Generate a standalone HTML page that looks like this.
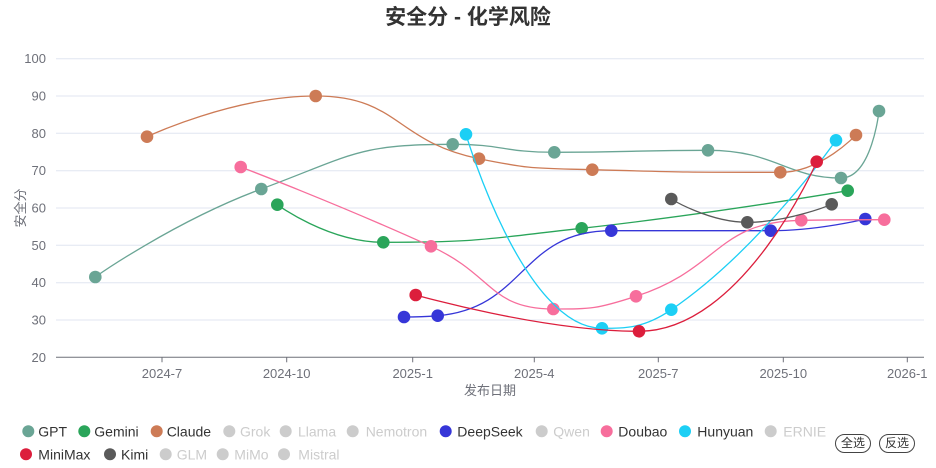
<!DOCTYPE html>
<html><head><meta charset="utf-8"><style>
html,body{margin:0;padding:0;background:#fff;}
body{width:936px;height:468px;overflow:hidden;position:relative;font-family:"Liberation Sans","Noto Sans CJK SC",sans-serif;}
svg{position:absolute;left:0;top:0;}
.btn{position:absolute;top:434px;height:17px;width:34px;border:1px solid #444;border-radius:10px;font-size:12px;line-height:17px;text-align:center;color:#333;box-sizing:content-box;}
</style></head><body>
<svg id="s" width="936" height="468" xmlns="http://www.w3.org/2000/svg" font-family="Liberation Sans, Noto Sans CJK SC, sans-serif">
<text x="468" y="24" text-anchor="middle" font-size="21" font-weight="bold" fill="#333">安全分 - 化学风险</text>
<g stroke="#e0e6f1" stroke-width="1">
<line x1="56" x2="924" y1="58.7" y2="58.7"/>
<line x1="56" x2="924" y1="96" y2="96"/>
<line x1="56" x2="924" y1="133.3" y2="133.3"/>
<line x1="56" x2="924" y1="170.7" y2="170.7"/>
<line x1="56" x2="924" y1="208" y2="208"/>
<line x1="56" x2="924" y1="245.3" y2="245.3"/>
<line x1="56" x2="924" y1="282.7" y2="282.7"/>
<line x1="56" x2="924" y1="320" y2="320"/>
</g>
<line x1="56" x2="924" y1="357.3" y2="357.3" stroke="#6e7079" stroke-width="1"/>
<g stroke="#6e7079" stroke-width="1">
<line x1="162" x2="162" y1="357.3" y2="362.3"/>
<line x1="286.7" x2="286.7" y1="357.3" y2="362.3"/>
<line x1="412.7" x2="412.7" y1="357.3" y2="362.3"/>
<line x1="534.3" x2="534.3" y1="357.3" y2="362.3"/>
<line x1="658.3" x2="658.3" y1="357.3" y2="362.3"/>
<line x1="783.3" x2="783.3" y1="357.3" y2="362.3"/>
<line x1="907.3" x2="907.3" y1="357.3" y2="362.3"/>
</g>
<g font-size="13" fill="#6e7079" text-anchor="end">
<text x="46" y="63.2">100</text>
<text x="46" y="100.5">90</text>
<text x="46" y="137.8">80</text>
<text x="46" y="175.2">70</text>
<text x="46" y="212.5">60</text>
<text x="46" y="249.8">50</text>
<text x="46" y="287.2">40</text>
<text x="46" y="324.5">30</text>
<text x="46" y="361.8">20</text>
</g>
<g font-size="13" fill="#6e7079" text-anchor="middle">
<text x="162" y="378">2024-7</text>
<text x="286.7" y="378">2024-10</text>
<text x="412.7" y="378">2025-1</text>
<text x="534.3" y="378">2025-4</text>
<text x="658.3" y="378">2025-7</text>
<text x="783.3" y="378">2025-10</text>
<text x="907.3" y="378">2026-1</text>
</g>
<text x="490" y="395" text-anchor="middle" font-size="13" fill="#6e7079">发布日期</text>
<text transform="translate(25,208) rotate(-90)" text-anchor="middle" font-size="13" fill="#6e7079">安全分</text>
<g id="series"></g>
<g font-size="14">
<circle cx="28.3" cy="431.3" r="6" fill="#6aa595"/><text x="38.3" y="436.3" fill="#333">GPT</text>
<circle cx="84.3" cy="431.3" r="6" fill="#2aa55a"/><text x="94.3" y="436.3" fill="#333">Gemini</text>
<circle cx="156.7" cy="431.3" r="6" fill="#cd7b56"/><text x="166.7" y="436.3" fill="#333">Claude</text>
<circle cx="229.3" cy="431.3" r="6" fill="#ccc"/><text x="240" y="436.3" fill="#ccc">Grok</text>
<circle cx="285.7" cy="431.3" r="6" fill="#ccc"/><text x="298" y="436.3" fill="#ccc">Llama</text>
<circle cx="352.7" cy="431.3" r="6" fill="#ccc"/><text x="365.7" y="436.3" fill="#ccc">Nemotron</text>
<circle cx="445.7" cy="431.3" r="6" fill="#3636d8"/><text x="457.3" y="436.3" fill="#333">DeepSeek</text>
<circle cx="541.7" cy="431.3" r="6" fill="#ccc"/><text x="553.3" y="436.3" fill="#ccc">Qwen</text>
<circle cx="606.7" cy="431.3" r="6" fill="#f76e9c"/><text x="618.3" y="436.3" fill="#333">Doubao</text>
<circle cx="685" cy="431.3" r="6" fill="#1ccff5"/><text x="697.3" y="436.3" fill="#333">Hunyuan</text>
<circle cx="770.7" cy="431.3" r="6" fill="#ccc"/><text x="783.3" y="436.3" fill="#ccc">ERNIE</text>
<circle cx="26" cy="454.3" r="6" fill="#dc1e3c"/><text x="38.3" y="459.3" fill="#333">MiniMax</text>
<circle cx="110" cy="454.3" r="6" fill="#5a5a5a"/><text x="121" y="459.3" fill="#333">Kimi</text>
<circle cx="165.7" cy="454.3" r="6" fill="#ccc"/><text x="176.7" y="459.3" fill="#ccc">GLM</text>
<circle cx="222.7" cy="454.3" r="6" fill="#ccc"/><text x="234.3" y="459.3" fill="#ccc">MiMo</text>
<circle cx="284" cy="454.3" r="6" fill="#ccc"/><text x="298.3" y="459.3" fill="#ccc">Mistral</text>
</g>
</svg>
<div class="btn" style="left:835px;">全选</div>
<div class="btn" style="left:879px;">反选</div>
<script>
var S=[
["#6aa595",[[95.3,277],[261.3,189],[452.7,144.3],[554.3,152.3],[708,150.3],[841,178],[879,111]]],
["#2aa55a",[[277.3,204.7],[383.3,242.3],[581.7,228.3],[847.7,190.7]]],
["#cd7b56",[[147,136.7],[315.7,96],[479,158.7],[592.3,169.7],[780.3,172.3],[856,135]]],
["#3636d8",[[404,317],[437.7,315.7],[611.3,230.7],[770.7,230.7],[865.3,219]]],
["#f76e9c",[[240.7,167],[431,246.3],[553.3,309],[636,296.3],[801.3,220.3],[884.3,219.7]]],
["#1ccff5",[[466,134.3],[602,328.3],[671.3,309.7],[836,140.3]]],
["#dc1e3c",[[415.7,295],[639,331.3],[816.7,161.7]]],
["#5a5a5a",[[671.3,199],[747.3,222.3],[831.7,204.3]]]
];
function smoothPath(p){
  var sm=0.5,mn=Math.min,mx=Math.max;
  var d="M"+p[0][0]+","+p[0][1];
  var cpx0=p[0][0],cpy0=p[0][1],prevX=p[0][0],prevY=p[0][1];
  for(var i=1;i<p.length;i++){
    var x=p[i][0],y=p[i][1],cpx1,cpy1,ncx=x,ncy=y;
    if(i===p.length-1){cpx1=x;cpy1=y;}
    else{
      var nx=p[i+1][0],ny=p[i+1][1];
      var vx=nx-prevX,vy=ny-prevY;
      var dx0=x-prevX,dy0=y-prevY,dx1=nx-x,dy1=ny-y;
      var lp=Math.sqrt(dx0*dx0+dy0*dy0),ln=Math.sqrt(dx1*dx1+dy1*dy1);
      var r=ln/(ln+lp);
      ncx=x+vx*sm*r;ncy=y+vy*sm*r;
      ncx=mn(ncx,mx(nx,x));ncy=mn(ncy,mx(ny,y));
      ncx=mx(ncx,mn(nx,x));ncy=mx(ncy,mn(ny,y));
      vx=ncx-x;vy=ncy-y;
      cpx1=x-vx*lp/ln;cpy1=y-vy*lp/ln;
      cpx1=mn(cpx1,mx(prevX,x));cpy1=mn(cpy1,mx(prevY,y));
      cpx1=mx(cpx1,mn(prevX,x));cpy1=mx(cpy1,mn(prevY,y));
      vx=x-cpx1;vy=y-cpy1;
      ncx=x+vx*ln/lp;ncy=y+vy*ln/lp;
    }
    d+=" C"+cpx0.toFixed(2)+","+cpy0.toFixed(2)+" "+cpx1.toFixed(2)+","+cpy1.toFixed(2)+" "+x+","+y;
    cpx0=ncx;cpy0=ncy;prevX=x;prevY=y;
  }
  return d;
}
var g=document.getElementById("series"),NS="http://www.w3.org/2000/svg";
S.forEach(function(s){
  var grp=document.createElementNS(NS,"g");
  var path=document.createElementNS(NS,"path");
  path.setAttribute("d",smoothPath(s[1]));
  path.setAttribute("fill","none");
  path.setAttribute("stroke",s[0]);
  path.setAttribute("stroke-width","1.3");
  grp.appendChild(path);
  s[1].forEach(function(pt){
    var c=document.createElementNS(NS,"circle");
    c.setAttribute("cx",pt[0]);c.setAttribute("cy",pt[1]);c.setAttribute("r","6.3");
    c.setAttribute("fill",s[0]);
    grp.appendChild(c);
  });
  g.appendChild(grp);
});
</script>
</body></html>
